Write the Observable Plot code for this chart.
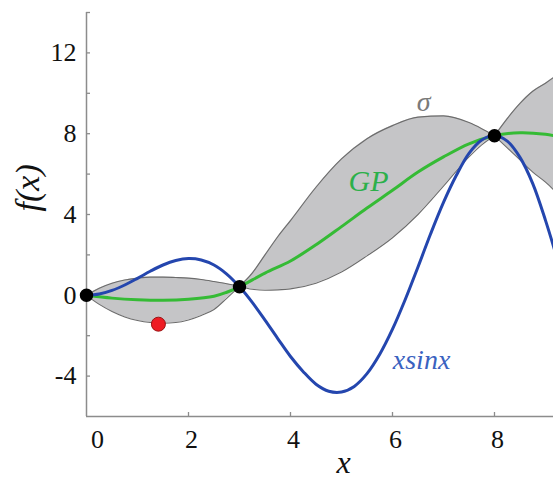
<!DOCTYPE html>
<html>
<head>
<meta charset="utf-8">
<script src="https://cdn.jsdelivr.net/npm/d3@7"></script>
<script src="https://cdn.jsdelivr.net/npm/@observablehq/plot@0.6"></script>
<style>
  html, body { margin: 0; padding: 0; background: #fff; }
  svg { display: block; }
</style>
</head>
<body>
<div id="chart"></div>
<script>
// ---- data ----
const xDomain = [0, 9.157];
const yDomain = [-6, 14];
const xTickLabels = [0, 2, 4, 6, 8];
const xTicks = [2, 4, 6, 8];
const yTickLabels = [-4, 0, 4, 8, 12];
const yTicks = [-4, -2, 0, 2, 4, 6, 8, 10, 12, 14];

// blue curve: x sin x
const blueX = [0,0.25,0.5,0.75,1,1.25,1.5,1.75,2,2.25,2.5,2.75,3,3.25,3.5,3.75,4,4.25,4.5,4.75,5,5.25,5.5,5.75,6,6.25,6.5,6.75,7,7.25,7.5,7.75,8,8.25,8.5,8.75,9,9.25];
const blueY = [0,0.06,0.24,0.51,0.84,1.19,1.5,1.72,1.82,1.75,1.5,1.05,0.42,-0.35,-1.23,-2.14,-3.03,-3.78,-4.4,-4.75,-4.79,-4.51,-3.88,-2.92,-1.68,-0.21,1.4,3.06,4.6,5.93,7.03,7.69,7.91,7.63,6.83,5.53,3.71,1.63];

// green GP mean
const gpX = [0,0.5,1,1.5,2,2.5,2.75,3,3.5,4,4.5,5,5.5,6,6.5,7,7.5,8,8.5,9,9.25];
const gpY = [0,-0.14,-0.22,-0.25,-0.2,-0.05,0.15,0.42,1.1,1.7,2.5,3.4,4.32,5.2,6.1,6.85,7.5,7.9,8.05,7.97,7.85];

// sigma band, three segments between observations
const bandSeg = [1,1,1,1,1,1,1,1,1,1,1,1,1, 2,2,2,2,2,2,2,2,2,2,2,2,2,2, 3,3,3,3,3,3];
const bandX = [0,0.25,0.5,0.75,1,1.25,1.5,1.75,2,2.25,2.5,2.75,3,
               3,3.25,3.5,3.75,4,4.5,5,5.5,6,6.5,7,7.5,7.75,8,
               8,8.25,8.5,8.75,9,9.25];
const bandUpper = [0,0.35,0.6,0.76,0.85,0.9,0.9,0.88,0.85,0.78,0.68,0.57,0.44,
                   0.44,1.1,2.0,2.9,3.7,5.35,6.75,7.75,8.4,8.82,8.88,8.55,8.25,7.9,
                   7.9,8.75,9.5,10.1,10.5,10.95];
const bandLower = [0,-0.45,-0.8,-1.07,-1.25,-1.35,-1.38,-1.35,-1.22,-1.0,-0.7,-0.15,0.44,
                   0.44,0.3,0.25,0.27,0.32,0.6,1.15,1.95,2.85,4.0,5.4,6.85,7.45,7.9,
                   7.9,7.3,6.7,6.1,5.6,5.0];

// observations and next sample
const obsX = [0, 3, 8];
const obsY = [0, 0.42, 7.9];
const nextX = [1.41];
const nextY = [-1.43];

// ---- tables built from the arrays ----
const blue = blueX.map((x, i) => ({x, y: blueY[i]}));
const gp = gpX.map((x, i) => ({x, y: gpY[i]}));
const band = bandX.map((x, i) => ({x, seg: bandSeg[i], lo: bandLower[i], hi: bandUpper[i]}));
const obs = obsX.map((x, i) => ({x, y: obsY[i]}));
const next = nextX.map((x, i) => ({x, y: nextY[i]}));

const font = "'Liberation Serif', 'DejaVu Serif', serif";
const axisGray = "#8c8c8c";
const fmt = d => String(d);

const chart = Plot.plot({
  width: 553,
  height: 489,
  marginLeft: 86,
  marginRight: 0,
  marginTop: 12,
  marginBottom: 73,
  style: {background: "#fff", overflow: "visible", fontFamily: font},
  x: {domain: xDomain, axis: null},
  y: {domain: yDomain, axis: null},
  marks: [
    // band
    Plot.areaY(band, {x: "x", y1: "lo", y2: "hi", z: "seg", fill: "#c5c5c7", curve: "monotone-x", clip: true}),
    Plot.lineY(band, {x: "x", y: "hi", z: "seg", stroke: "#6c6c6c", strokeWidth: 1.1, curve: "monotone-x", clip: true}),
    Plot.lineY(band, {x: "x", y: "lo", z: "seg", stroke: "#6c6c6c", strokeWidth: 1.1, curve: "monotone-x", clip: true}),
    // GP mean
    Plot.line(gp, {x: "x", y: "y", stroke: "#35bb35", strokeWidth: 3, curve: "catmull-rom", clip: true}),
    // x sin x
    Plot.line(blue, {x: "x", y: "y", stroke: "#2446ae", strokeWidth: 3, curve: "catmull-rom", clip: true}),
    // axes lines
    Plot.ruleX([xDomain[0]], {stroke: axisGray, strokeWidth: 1.5}),
    Plot.ruleY([yDomain[0]], {stroke: axisGray, strokeWidth: 1.5}),
    // inward ticks
    Plot.tickX(xTicks, {x: d => d, stroke: axisGray, strokeWidth: 1.3, insetTop: 404 - 4}),
    Plot.tickY(yTicks, {y: d => d, stroke: axisGray, strokeWidth: 1.3, insetRight: 467 - 4}),
    // tick labels
    Plot.axisX([xTickLabels[0]], {tickSize: 0, tickPadding: 13, fontSize: 26, dx: 11, tickFormat: fmt, label: null, fill: "#111"}),
    Plot.axisX(xTickLabels.slice(1), {tickSize: 0, tickPadding: 13, fontSize: 26, dx: 3, tickFormat: fmt, label: null, fill: "#111"}),
    Plot.axisY(yTickLabels, {tickSize: 0, tickPadding: 10, fontSize: 26, tickFormat: fmt, label: null, fill: "#111"}),
    // points
    Plot.dot(obs, {x: "x", y: "y", r: 6, fill: "#000", stroke: "#000"}),
    Plot.dot(next, {x: "x", y: "y", r: 7, fill: "#ee1c24", stroke: "#9a1414", strokeWidth: 1}),
    // annotations
    Plot.text(["σ"], {x: 6.61, y: 9.58, fill: "#7a7a7a", fontSize: 28, fontStyle: "italic"}),
    Plot.text(["GP"], {x: 5.53, y: 5.63, fill: "#2cb04a", fontSize: 30, fontStyle: "italic"}),
    Plot.text(["xsinx"], {x: 6.57, y: -3.2, fill: "#3a62c0", fontSize: 28, fontStyle: "italic"}),
    // axis titles
    Plot.text(["x"], {x: 5.04, frameAnchor: "bottom", dy: 56, fill: "#111", fontSize: 32, fontStyle: "italic"}),
    Plot.text(["f(x)"], {y: 4.15, frameAnchor: "left", dx: -58, rotate: -90, fill: "#111", fontSize: 34, fontStyle: "italic"})
  ]
});
document.getElementById("chart").appendChild(chart);
</script>
</body>
</html>
